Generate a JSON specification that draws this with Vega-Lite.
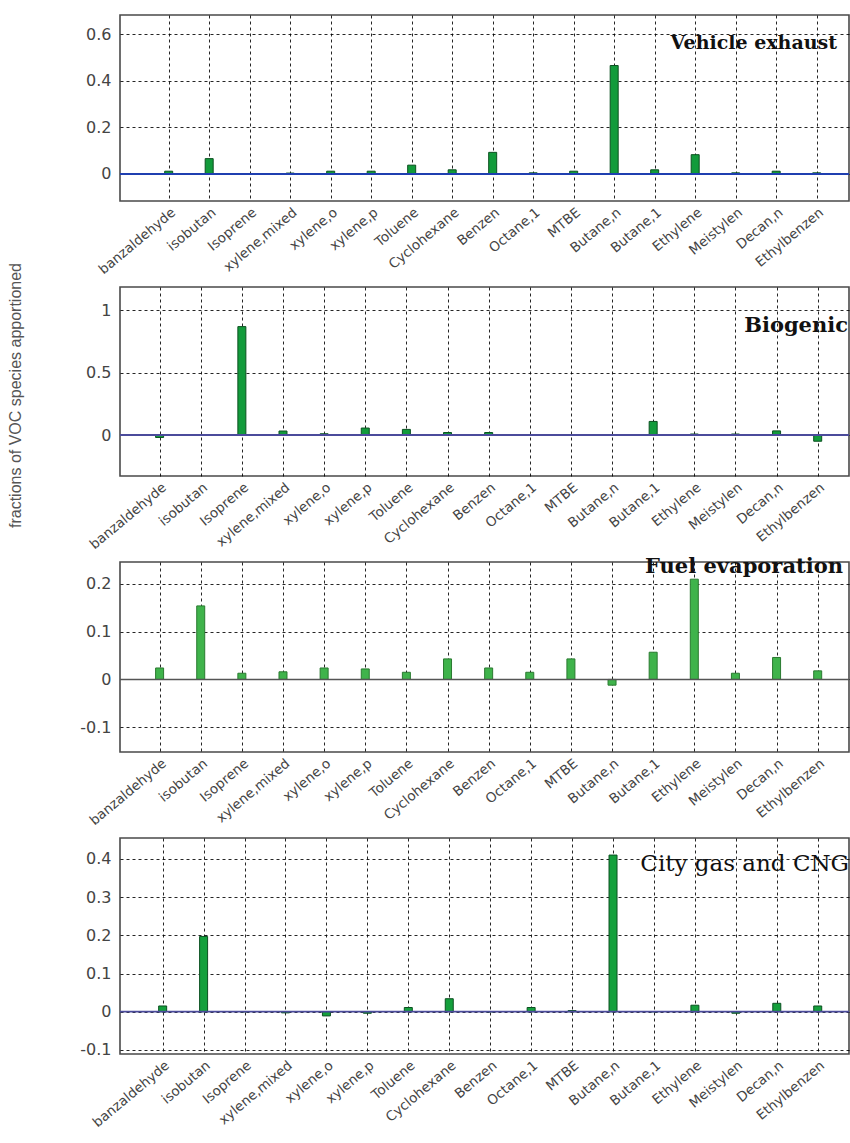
{
  "$schema": "https://vega.github.io/schema/vega-lite/v6.json",
  "padding": {"left": 6, "top": 14, "right": 0, "bottom": 0},
  "background": "white",
  "spacing": 86,
  "bounds": "flush",
  "config": {
    "view": {"stroke": "#4a4a4a", "strokeWidth": 1.6},
    "axis": {
      "grid": true, "gridColor": "#000000", "gridDash": [3, 3], "gridWidth": 1, "gridOpacity": 0.85,
      "domain": false, "ticks": false, "title": null,
      "labelFont": "DejaVu Sans", "labelColor": "#444444", "labelOverlap": false
    },
    "axisY": {"labelFontSize": 16, "labelPadding": 9},
    "axisX": {"labelFontSize": 13.5, "labelAngle": -40, "labelAlign": "right", "labelBaseline": "top", "labelPadding": 4}
  },
  "datasets": {
    "voc": [
      {"source": "Vehicle exhaust", "species": "banzaldehyde", "value": 0.012},
      {"source": "Vehicle exhaust", "species": "isobutan", "value": 0.066},
      {"source": "Vehicle exhaust", "species": "Isoprene", "value": 0.0},
      {"source": "Vehicle exhaust", "species": "xylene,mixed", "value": 0.004},
      {"source": "Vehicle exhaust", "species": "xylene,o", "value": 0.012},
      {"source": "Vehicle exhaust", "species": "xylene,p", "value": 0.012},
      {"source": "Vehicle exhaust", "species": "Toluene", "value": 0.038},
      {"source": "Vehicle exhaust", "species": "Cyclohexane", "value": 0.018},
      {"source": "Vehicle exhaust", "species": "Benzen", "value": 0.093},
      {"source": "Vehicle exhaust", "species": "Octane,1", "value": 0.005},
      {"source": "Vehicle exhaust", "species": "MTBE", "value": 0.012},
      {"source": "Vehicle exhaust", "species": "Butane,n", "value": 0.466},
      {"source": "Vehicle exhaust", "species": "Butane,1", "value": 0.018},
      {"source": "Vehicle exhaust", "species": "Ethylene", "value": 0.083},
      {"source": "Vehicle exhaust", "species": "Meistylen", "value": 0.005},
      {"source": "Vehicle exhaust", "species": "Decan,n", "value": 0.012},
      {"source": "Vehicle exhaust", "species": "Ethylbenzen", "value": 0.005},

      {"source": "Biogenic", "species": "banzaldehyde", "value": -0.02},
      {"source": "Biogenic", "species": "isobutan", "value": 0.0},
      {"source": "Biogenic", "species": "Isoprene", "value": 0.87},
      {"source": "Biogenic", "species": "xylene,mixed", "value": 0.032},
      {"source": "Biogenic", "species": "xylene,o", "value": 0.01},
      {"source": "Biogenic", "species": "xylene,p", "value": 0.056},
      {"source": "Biogenic", "species": "Toluene", "value": 0.045},
      {"source": "Biogenic", "species": "Cyclohexane", "value": 0.02},
      {"source": "Biogenic", "species": "Benzen", "value": 0.02},
      {"source": "Biogenic", "species": "Octane,1", "value": 0.0},
      {"source": "Biogenic", "species": "MTBE", "value": 0.0},
      {"source": "Biogenic", "species": "Butane,n", "value": 0.0},
      {"source": "Biogenic", "species": "Butane,1", "value": 0.109},
      {"source": "Biogenic", "species": "Ethylene", "value": 0.008},
      {"source": "Biogenic", "species": "Meistylen", "value": 0.008},
      {"source": "Biogenic", "species": "Decan,n", "value": 0.033},
      {"source": "Biogenic", "species": "Ethylbenzen", "value": -0.05},

      {"source": "Fuel evaporation", "species": "banzaldehyde", "value": 0.024},
      {"source": "Fuel evaporation", "species": "isobutan", "value": 0.154},
      {"source": "Fuel evaporation", "species": "Isoprene", "value": 0.013},
      {"source": "Fuel evaporation", "species": "xylene,mixed", "value": 0.016},
      {"source": "Fuel evaporation", "species": "xylene,o", "value": 0.024},
      {"source": "Fuel evaporation", "species": "xylene,p", "value": 0.022},
      {"source": "Fuel evaporation", "species": "Toluene", "value": 0.015},
      {"source": "Fuel evaporation", "species": "Cyclohexane", "value": 0.043},
      {"source": "Fuel evaporation", "species": "Benzen", "value": 0.024},
      {"source": "Fuel evaporation", "species": "Octane,1", "value": 0.015},
      {"source": "Fuel evaporation", "species": "MTBE", "value": 0.043},
      {"source": "Fuel evaporation", "species": "Butane,n", "value": -0.012},
      {"source": "Fuel evaporation", "species": "Butane,1", "value": 0.057},
      {"source": "Fuel evaporation", "species": "Ethylene", "value": 0.21},
      {"source": "Fuel evaporation", "species": "Meistylen", "value": 0.013},
      {"source": "Fuel evaporation", "species": "Decan,n", "value": 0.046},
      {"source": "Fuel evaporation", "species": "Ethylbenzen", "value": 0.018},

      {"source": "City gas and CNG", "species": "banzaldehyde", "value": 0.015},
      {"source": "City gas and CNG", "species": "isobutan", "value": 0.197},
      {"source": "City gas and CNG", "species": "Isoprene", "value": 0.0},
      {"source": "City gas and CNG", "species": "xylene,mixed", "value": -0.003},
      {"source": "City gas and CNG", "species": "xylene,o", "value": -0.011},
      {"source": "City gas and CNG", "species": "xylene,p", "value": -0.004},
      {"source": "City gas and CNG", "species": "Toluene", "value": 0.011},
      {"source": "City gas and CNG", "species": "Cyclohexane", "value": 0.034},
      {"source": "City gas and CNG", "species": "Benzen", "value": 0.0},
      {"source": "City gas and CNG", "species": "Octane,1", "value": 0.011},
      {"source": "City gas and CNG", "species": "MTBE", "value": 0.003},
      {"source": "City gas and CNG", "species": "Butane,n", "value": 0.41},
      {"source": "City gas and CNG", "species": "Butane,1", "value": 0.0},
      {"source": "City gas and CNG", "species": "Ethylene", "value": 0.017},
      {"source": "City gas and CNG", "species": "Meistylen", "value": -0.004},
      {"source": "City gas and CNG", "species": "Decan,n", "value": 0.022},
      {"source": "City gas and CNG", "species": "Ethylbenzen", "value": 0.015}
    ]
  },
  "vconcat": [
    {
      "width": 729, "height": 186,
      "data": {"name": "voc"},
      "transform": [{"filter": "datum.source === 'Vehicle exhaust'"}],
      "title": {"text": "Vehicle exhaust", "anchor": "end", "frame": "group", "orient": "top", "offset": -53, "dx": -12, "baseline": "alphabetic", "font": "DejaVu Serif", "fontSize": 19, "fontWeight": "bold", "color": "#111111"},
      "layer": [
        {
          "mark": {"type": "bar", "width": 8, "fill": "#129b3b", "stroke": "#0b5020", "strokeWidth": 1},
          "encoding": {
            "x": {"field": "species", "type": "nominal", "sort": null, "scale": {"type": "point", "padding": 1.108, "align": 0.601}},
            "y": {"field": "value", "type": "quantitative", "scale": {"domain": [-0.116, 0.683], "nice": false, "zero": false}, "axis": {"values": [0, 0.2, 0.4, 0.6], "labelExpr": "toString(datum.value)"}}
          }
        },
        {"data": {"values": [{}]}, "mark": {"type": "rule", "color": "#1f3fb0", "strokeWidth": 2}, "encoding": {"y": {"datum": 0}}}
      ]
    },
    {
      "width": 729, "height": 189,
      "data": {"name": "voc"},
      "transform": [{"filter": "datum.source === 'Biogenic'"}],
      "title": {"text": "Biogenic", "anchor": "end", "frame": "group", "orient": "top", "offset": -91, "dx": -1, "baseline": "alphabetic", "font": "DejaVu Serif", "fontSize": 21, "fontWeight": "bold", "color": "#111111"},
      "layer": [
        {
          "mark": {"type": "bar", "width": 8, "fill": "#129b3b", "stroke": "#0b5020", "strokeWidth": 1},
          "encoding": {
            "x": {"field": "species", "type": "nominal", "sort": null, "scale": {"type": "point", "padding": 0.862, "align": 0.5585}},
            "y": {"field": "value", "type": "quantitative", "scale": {"domain": [-0.329, 1.188], "nice": false, "zero": false},
              "axis": {"values": [0, 0.5, 1], "labelExpr": "toString(datum.value)",
                "title": "fractions of VOC species apportioned", "titleX": -97, "titleY": 108, "titleAngle": -90, "titleBaseline": "bottom", "titleAlign": "center",
                "titleFont": "Liberation Sans", "titleFontSize": 16, "titleFontWeight": "normal", "titleColor": "#555555"}}
          }
        },
        {"data": {"values": [{}]}, "mark": {"type": "rule", "color": "#4b4b9b", "strokeWidth": 1.8}, "encoding": {"y": {"datum": 0}}}
      ]
    },
    {
      "width": 729, "height": 190,
      "data": {"name": "voc"},
      "transform": [{"filter": "datum.source === 'Fuel evaporation'"}],
      "title": {"text": "Fuel evaporation", "anchor": "end", "frame": "group", "orient": "top", "offset": -32, "dx": -6, "baseline": "alphabetic", "font": "DejaVu Serif", "fontSize": 21, "fontWeight": "bold", "color": "#111111"},
      "layer": [
        {
          "mark": {"type": "bar", "width": 8, "fill": "#3fb34b", "stroke": "#2a7a30", "strokeWidth": 1},
          "encoding": {
            "x": {"field": "species", "type": "nominal", "sort": null, "scale": {"type": "point", "padding": 0.862, "align": 0.5585}},
            "y": {"field": "value", "type": "quantitative", "scale": {"domain": [-0.152, 0.246], "nice": false, "zero": false}, "axis": {"values": [-0.1, 0, 0.1, 0.2], "labelExpr": "toString(datum.value)"}}
          }
        },
        {"data": {"values": [{}]}, "mark": {"type": "rule", "color": "#555555", "strokeWidth": 1.6}, "encoding": {"y": {"datum": 0}}}
      ]
    },
    {
      "width": 729, "height": 216,
      "data": {"name": "voc"},
      "transform": [{"filter": "datum.source === 'City gas and CNG'"}],
      "title": {"text": "City gas and CNG", "anchor": "end", "frame": "group", "orient": "top", "offset": -56, "dx": 0, "baseline": "alphabetic", "font": "DejaVu Serif", "fontSize": 23, "fontWeight": "normal", "color": "#111111"},
      "layer": [
        {
          "mark": {"type": "bar", "width": 8, "fill": "#14a03c", "stroke": "#0b5020", "strokeWidth": 1},
          "encoding": {
            "x": {"field": "species", "type": "nominal", "sort": null, "scale": {"type": "point", "padding": 0.903, "align": 0.577}},
            "y": {"field": "value", "type": "quantitative", "scale": {"domain": [-0.1107, 0.4547], "nice": false, "zero": false}, "axis": {"values": [-0.1, 0, 0.1, 0.2, 0.3, 0.4], "labelExpr": "toString(datum.value)"}}
          }
        },
        {"data": {"values": [{}]}, "mark": {"type": "rule", "color": "#4b4b9b", "strokeWidth": 1.8}, "encoding": {"y": {"datum": 0}}}
      ]
    }
  ]
}
